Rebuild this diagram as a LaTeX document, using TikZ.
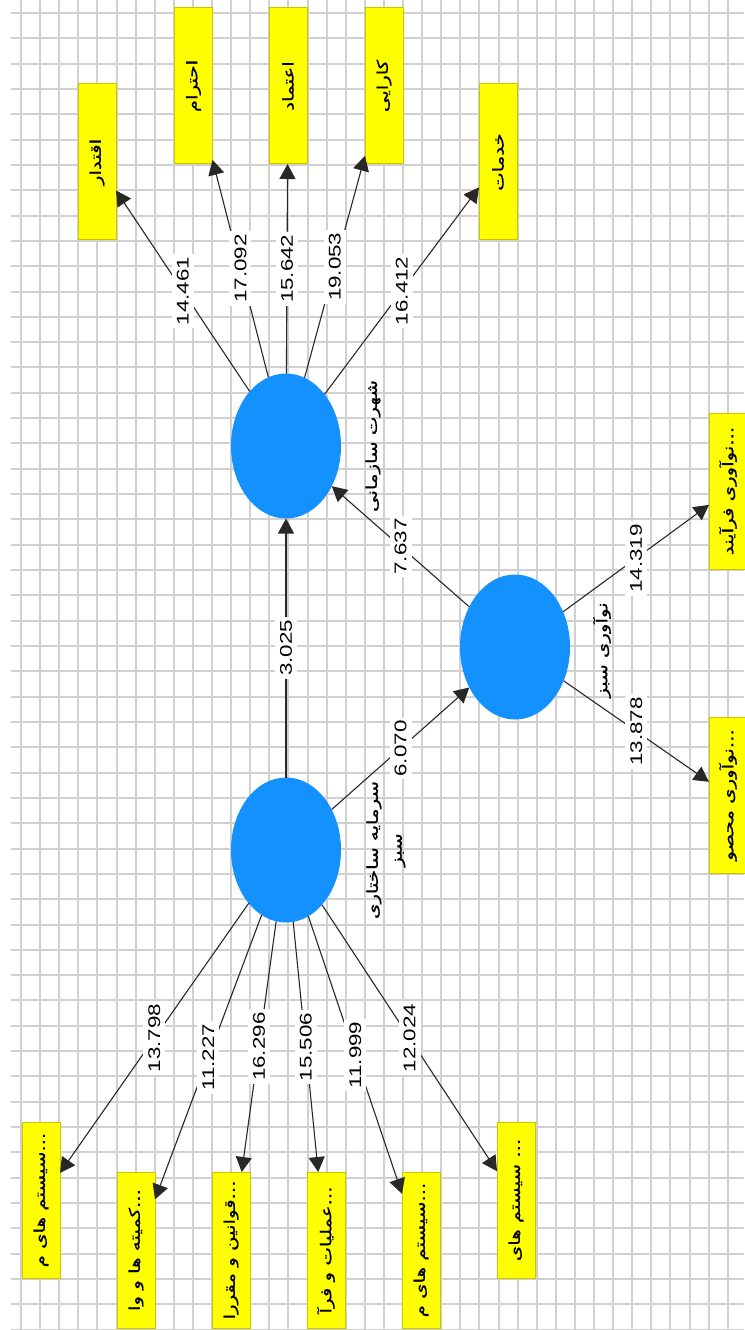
\documentclass[tikz,border=0pt]{standalone}
\usepackage{fontspec}
\usepackage{graphicx}
\setmainfont{Liberation Sans}
\newfontfamily\fafont[Script=Arabic,FakeBold=0.8]{DejaVu Sans}
\TeXXeTstate=1
\usetikzlibrary{shapes.geometric,arrows.meta}

\newcommand{\vtext}[1]{\rotatebox{90}{\scalebox{1.32}[1]{#1}}}
\newcommand{\fa}[1]{\beginR #1\endR}

\begin{document}
\begin{tikzpicture}[
  x=1bp, y=-1bp,
  every node/.style={inner sep=0pt, outer sep=0pt},
  gridline/.style={draw=gridgray, line width=2bp},
  latent/.style={ellipse, fill=latentblue, minimum width=110bp, minimum height=145bp},
  indicator/.style={rectangle, fill=boxfill, draw=boxedge, line width=1bp,
    minimum width=38bp, minimum height=156bp, font=\fontsize{15}{18}\selectfont\fafont},
  latentname/.style={font=\fontsize{15}{24}\selectfont\fafont},
  link/.style={draw=linegray, line width=1.1bp, -{Triangle[length=15bp,width=16bp]}},
  weight/.style={fill=white, inner xsep=5bp, inner ysep=3bp, font=\fontsize{17}{20}\selectfont},
]
%-------------------------------------------------------------
\definecolor{gridgray}{RGB}{208,208,208}
\definecolor{latentblue}{RGB}{18,145,255}
\definecolor{boxfill}{RGB}{255,255,0}
\definecolor{boxedge}{RGB}{204,196,0}
\definecolor{linegray}{RGB}{40,40,40}

\useasboundingbox[fill=white] (0,0) rectangle (744,1330);

% grid
\foreach \i [evaluate=\i as \gx using {round(21+19.1*\i)}] in {0,...,37}
  \draw[gridline] (\gx,0) -- (\gx,1330);
\foreach \j [evaluate=\j as \gy using {round(13+25.32*\j)}] in {0,...,52}
  \draw[gridline] (11,\gy) -- (744,\gy);

%============================================================
\node[latent] (SR) at (286,446) {};
\node[latent] (NS) at (515,647) {};
\node[latent] (SS) at (286,850) {};

\node[latentname] (SRt) at (373,446) {\vtext{\fa{شهرت سازمانی}}};
\node[latentname] (NSt) at (602,650) {\vtext{\fa{نوآوری سبز}}};
\node[latentname] (SSt) at (385,850) {\vtext{\begin{tabular}{@{}c@{}}\fa{سرمایه ساختاری}\\\fa{سبز}\end{tabular}}};

%============================================================
\node[indicator] (R1) at (97,162) {\vtext{\fa{اقتدار}}};
\node[indicator] (R2) at (193.5,86) {\vtext{\fa{احترام}}};
\node[indicator] (R3) at (288,86) {\vtext{\fa{اعتماد}}};
\node[indicator] (R4) at (384,86) {\vtext{\fa{کارایی}}};
\node[indicator] (R5) at (498,162) {\vtext{\fa{خدمات}}};

\node[indicator] (N1) at (728,491) {\vtext{\fa{نوآوری فرآیند}...}};
\node[indicator] (N2) at (728,795) {\vtext{\fa{نوآوری محصو}...}};

\node[indicator] (S1) at (41,1200) {\vtext{\fa{سیستم های م}...}};
\node[indicator] (S2) at (136,1250) {\vtext{\fa{کمیته ها و وا}...}};
\node[indicator] (S3) at (231,1250) {\vtext{\fa{قوانین و مقررا}...}};
\node[indicator] (S4) at (326,1250) {\vtext{\fa{عملیات و فرآ}...}};
\node[indicator] (S5) at (421,1250) {\vtext{\fa{سیستم های م}...}};
\node[indicator] (S6) at (516,1200) {\vtext{\fa{سیستم های}\ ...}};

%============================================================
\draw[link] (SR) -- node[weight] {\vtext{14.461}} (R1);
\draw[link] (SR) -- node[weight] {\vtext{17.092}} (R2);
\draw[link] (SR) -- node[weight] {\vtext{15.642}} (R3);
\draw[link] (SR) -- node[weight] {\vtext{19.053}} (R4);
\draw[link] (SR) -- node[weight] {\vtext{16.412}} (R5);

\draw[link] (NS) -- node[weight] {\vtext{14.319}} (N1);
\draw[link] (NS) -- node[weight] {\vtext{13.878}} (N2);

\draw[link] (SS) -- node[weight] {\vtext{13.798}} (S1);
\draw[link] (SS) -- node[weight] {\vtext{11.227}} (S2);
\draw[link] (SS) -- node[weight] {\vtext{16.296}} (S3);
\draw[link] (SS) -- node[weight] {\vtext{15.506}} (S4);
\draw[link] (SS) -- node[weight] {\vtext{11.999}} (S5);
\draw[link] (SS) -- node[weight] {\vtext{12.024}} (S6);

\draw[link] (SS) -- node[weight] {\vtext{3.025}} (SR);
\draw[link] (SS) -- node[weight] {\vtext{6.070}} (NS);
\draw[link] (NS) -- node[weight] {\vtext{7.637}} (SR);

\end{tikzpicture}
\end{document}
